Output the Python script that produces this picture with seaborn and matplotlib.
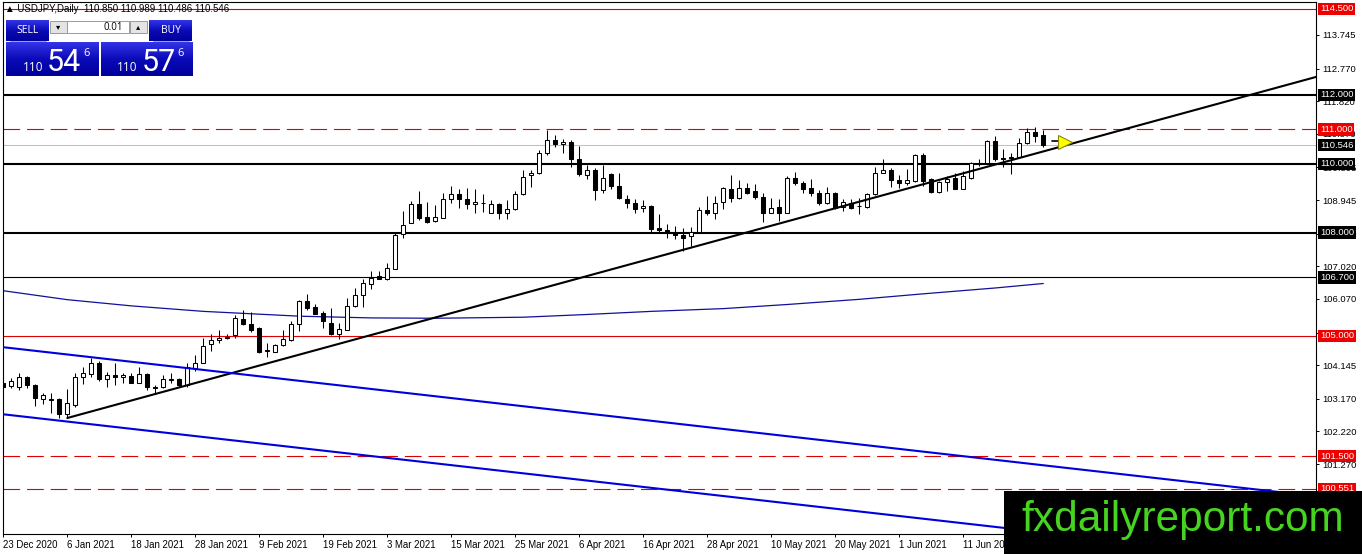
import numpy as np
import pandas as pd
import matplotlib
matplotlib.use("Agg")
import matplotlib.pyplot as plt
import seaborn as sns
from matplotlib.patches import Rectangle
from matplotlib.colors import LinearSegmentedColormap

# ---------------- data ----------------
opens = [103.62, 103.55, 103.50, 103.79, 103.56, 103.15, 103.15, 103.15, 102.72, 102.98,
         103.79, 103.88, 104.22, 103.73, 103.85, 103.79, 103.82, 103.64, 103.88, 103.51,
         103.50, 103.72, 103.73, 103.56, 104.05, 104.20, 104.75, 104.89, 104.95, 105.01,
         105.50, 105.33, 105.24, 104.56, 104.54, 104.72, 104.89, 105.35, 106.02, 105.85,
         105.67, 105.38, 105.06, 105.18, 105.88, 106.20, 106.51, 106.75, 106.66, 106.95,
         107.96, 108.28, 108.83, 108.46, 108.34, 108.43, 108.98, 109.12, 108.98, 108.83,
         108.87, 108.57, 108.83, 108.57, 108.69, 109.12, 109.67, 109.73, 110.31, 110.69,
         110.57, 110.63, 110.14, 109.67, 109.82, 109.24, 109.70, 109.36, 108.98, 108.86,
         108.72, 108.78, 108.14, 108.08, 108.02, 107.93, 107.91, 108.02, 108.66, 108.57,
         108.89, 109.27, 109.01, 109.30, 109.21, 109.04, 108.57, 108.75, 108.57, 109.59,
         109.44, 109.30, 109.15, 108.86, 109.15, 108.75, 108.86, 108.78, 108.75, 109.12,
         109.73, 109.82, 109.53, 109.44, 109.50, 110.25, 109.56, 109.18, 109.47, 109.59,
         109.27, 109.59, 110.02, 110.02, 110.66, 110.17, 110.18, 110.20, 110.60, 110.92,
         110.850]
highs = [103.67, 103.76, 103.91, 103.82, 103.59, 103.33, 103.33, 103.18, 103.44, 103.93,
         104.08, 104.34, 104.28, 103.96, 104.20, 103.91, 103.91, 104.08, 103.91, 103.56,
         103.85, 103.93, 103.76, 104.20, 104.43, 104.95, 105.04, 105.18, 105.06, 105.59,
         105.76, 105.70, 105.27, 104.80, 104.77, 105.18, 105.44, 106.05, 106.22, 105.91,
         105.73, 105.82, 105.38, 106.11, 106.40, 106.66, 106.89, 106.89, 107.12, 107.99,
         108.63, 108.92, 109.21, 108.89, 108.80, 109.15, 109.36, 109.27, 109.30, 109.27,
         109.12, 108.95, 108.86, 108.95, 109.21, 109.82, 109.82, 110.40, 110.98, 110.83,
         110.72, 110.69, 110.51, 109.96, 109.88, 109.96, 109.73, 109.73, 109.09, 108.98,
         108.95, 108.80, 108.54, 108.25, 108.20, 108.14, 108.17, 108.75, 109.07, 109.07,
         109.33, 109.67, 109.53, 109.44, 109.41, 109.15, 109.01, 108.98, 109.64, 109.76,
         109.50, 109.56, 109.24, 109.33, 109.18, 108.98, 108.98, 109.01, 109.15, 109.91,
         110.14, 109.88, 109.67, 109.85, 110.28, 110.31, 109.59, 109.50, 109.64, 109.73,
         109.79, 110.05, 110.14, 110.69, 110.80, 110.43, 110.31, 110.75, 111.04, 111.07,
         110.989]
lows = [103.44, 103.47, 103.41, 103.47, 102.95, 103.01, 102.75, 102.60, 102.60, 102.92,
        103.59, 103.79, 103.70, 103.50, 103.56, 103.62, 103.62, 103.62, 103.41, 103.33,
        103.47, 103.64, 103.50, 103.50, 103.99, 104.20, 104.57, 104.80, 104.92, 104.95,
        105.30, 105.12, 104.49, 104.37, 104.54, 104.69, 104.86, 105.15, 105.76, 105.62,
        105.24, 105.01, 104.92, 105.18, 105.85, 105.85, 106.37, 106.66, 106.63, 106.95,
        107.85, 108.28, 108.37, 108.28, 108.31, 108.43, 108.86, 108.72, 108.69, 108.57,
        108.60, 108.57, 108.40, 108.40, 108.66, 109.09, 109.33, 109.70, 110.25, 110.49,
        110.31, 109.91, 109.64, 109.56, 108.95, 109.15, 109.27, 108.98, 108.72, 108.57,
        108.60, 108.02, 107.99, 107.85, 107.82, 107.47, 107.62, 107.99, 108.51, 108.40,
        108.69, 108.89, 108.98, 109.12, 108.98, 108.31, 108.57, 108.34, 108.57, 109.38,
        109.15, 109.07, 108.80, 108.83, 108.69, 108.63, 108.69, 108.54, 108.72, 109.09,
        109.73, 109.33, 109.30, 109.38, 109.47, 109.36, 109.15, 109.15, 109.21, 109.27,
        109.27, 109.56, 109.93, 110.02, 110.08, 109.91, 109.70, 110.17, 110.57, 110.63,
        110.486]
closes = [103.50, 103.68, 103.79, 103.56, 103.18, 103.27, 103.12, 102.72, 103.04, 103.79,
          103.91, 104.22, 103.73, 103.85, 103.79, 103.85, 103.64, 103.88, 103.50, 103.49,
          103.73, 103.74, 103.56, 104.08, 104.22, 104.69, 104.89, 104.95, 104.96, 105.53,
          105.35, 105.18, 104.54, 104.58, 104.72, 104.92, 105.35, 106.02, 105.82, 105.64,
          105.44, 105.06, 105.21, 105.88, 106.20, 106.54, 106.69, 106.66, 106.98, 107.93,
          108.22, 108.83, 108.43, 108.31, 108.46, 108.98, 109.12, 108.98, 108.83, 108.89,
          108.85, 108.83, 108.57, 108.69, 109.12, 109.62, 109.73, 110.31, 110.69, 110.57,
          110.63, 110.14, 109.70, 109.82, 109.24, 109.59, 109.36, 109.01, 108.86, 108.69,
          108.78, 108.11, 108.08, 107.99, 107.93, 107.85, 108.02, 108.66, 108.57, 108.86,
          109.30, 109.01, 109.30, 109.15, 109.04, 108.57, 108.72, 108.57, 109.59, 109.44,
          109.27, 109.15, 108.86, 109.15, 108.72, 108.89, 108.72, 108.76, 109.12, 109.73,
          109.82, 109.53, 109.44, 109.53, 110.25, 109.50, 109.18, 109.47, 109.56, 109.27,
          109.64, 110.02, 109.99, 110.66, 110.14, 110.15, 110.20, 110.60, 110.92, 110.80,
          110.546]

# 200-period moving average, read at sample bars
ma_bars = [0, 8, 16, 25, 37, 46, 54, 65, 73, 81, 90, 98, 107, 115, 124, 130]
ma_vals = [106.31, 106.05, 105.87, 105.71, 105.57, 105.52, 105.51, 105.54, 105.62, 105.71,
           105.79, 105.91, 106.06, 106.22, 106.39, 106.52]

# trendline and channel anchors (bar, price)
trend_bars = [8, 170]
trend_prices = [102.61, 112.90]
chan_bars = [-5, 170]
chan_upper = [104.80, 100.18]
chan_lower = [102.85, 98.23]

# horizontal levels
solid_black_thick = [112.0, 110.0, 108.0]
solid_black_thin = [106.7]
solid_red = [114.5, 105.0]
dashed_red = [111.0, 101.5, 100.551]
bid_price = 110.546
boxed_levels = [114.5, 112.0, 111.0, 110.546, 110.0, 108.0, 106.7, 105.0, 101.5, 100.551]
boxed_colors = ['#ee0000', 'black', '#ee0000', 'black', 'black', 'black', 'black',
                '#ee0000', '#ee0000', '#ee0000']

y_ticks = [113.745, 112.770, 111.820, 110.870, 109.895, 108.945, 107.970, 107.020,
           106.070, 105.095, 104.145, 103.170, 102.220, 101.270, 100.295]
date_ticks = [0, 8, 16, 24, 32, 40, 48, 56, 64, 72, 80, 88, 96, 104, 112, 120]
date_labels = ['23 Dec 2020', '6 Jan 2021', '18 Jan 2021', '28 Jan 2021', '9 Feb 2021',
               '19 Feb 2021', '3 Mar 2021', '15 Mar 2021', '25 Mar 2021', '6 Apr 2021',
               '16 Apr 2021', '28 Apr 2021', '10 May 2021', '20 May 2021', '1 Jun 2021',
               '11 Jun 2021']

arrow_bar = 132.7
arrow_price = 110.63
header = "\u25b2 USDJPY,Daily  110.850 110.989 110.486 110.546"

# ---------------- style ----------------
sns.set_theme(style="white")
plt.rcParams['font.family'] = ['Liberation Sans', 'DejaVu Sans']
plt.rcParams['lines.scale_dashes'] = False

W, H = 1362, 554
fig = plt.figure(figsize=(W / 100, H / 100), dpi=100)
fig.patch.set_facecolor('white')

L_PX, R_PX, T_PX, B_PX = 3, 1316, 1.5, 534
ax = fig.add_axes([L_PX / W, (H - B_PX) / H, (R_PX - L_PX) / W, (B_PX - T_PX) / H])
ax.set_facecolor('white')

df = pd.DataFrame({'o': opens, 'h': highs, 'l': lows, 'c': closes})
df['x'] = np.arange(len(df))
up = df['c'] >= df['o']

# candles
ax.vlines(df['x'], df['l'], df['h'], color='black', linewidth=0.75, zorder=2.2)
body = (df['c'] - df['o']).where((df['c'] - df['o']).abs() > 0.012,
                                 np.sign(df['c'] - df['o'] + 1e-9) * 0.012)
ax.bar(df['x'], body, bottom=df['o'], width=0.55,
       color=np.where(up, 'white', 'black'), edgecolor='black', linewidth=0.75, zorder=2.3)

# horizontal lines
ax.axhline(bid_price, color='#c0c0c0', linewidth=0.75, zorder=1)
for v in solid_black_thick:
    ax.axhline(v, color='black', linewidth=1.5, zorder=1.6)
for v in solid_black_thin:
    ax.axhline(v, color='black', linewidth=0.8, zorder=1.6)
for v in solid_red:
    ax.axhline(v, color='#dd0000', linewidth=0.8, zorder=1.6)
for v in dashed_red:
    ax.axhline(v, color='#dd0000', linewidth=0.8, linestyle=(0, (12, 5)), zorder=1.6)

# moving average
sns.lineplot(x=ma_bars, y=ma_vals, ax=ax, color='#10109a', linewidth=0.9, zorder=2)

# trendline & channel
ax.plot(trend_bars, trend_prices, color='black', linewidth=1.5, zorder=3)
ax.plot(chan_bars, chan_upper, color='#0000dd', linewidth=1.5, zorder=3)
ax.plot(chan_bars, chan_lower, color='#0000dd', linewidth=1.5, zorder=3)

# arrow marker
ax.plot([arrow_bar - 1.6, arrow_bar - 0.6], [arrow_price + 0.03, arrow_price + 0.03],
        color='black', linewidth=1.2, zorder=4)
ax.plot([arrow_bar], [arrow_price], marker='>', markersize=10, color='#ffff00',
        markeredgecolor='#8a8a00', markeredgewidth=0.8, zorder=4.5)

# limits
ax.set_xlim(-0.0375, 164.09)
ax.set_ylim(99.238, 114.718)

for s in ax.spines.values():
    s.set_color('black')
    s.set_linewidth(0.8)

ax.yaxis.tick_right()
ax.set_yticks(y_ticks)
ax.set_yticklabels([f"{v:.3f}" for v in y_ticks])
ax.tick_params(axis='y', which='both', right=True, left=False, length=2.5, width=0.7,
               pad=1.8, labelsize=6.8, colors='black', direction='out')
ax.set_xticks(date_ticks)
ax.set_xticklabels(date_labels, ha='left')
ax.tick_params(axis='x', bottom=True, length=2.5, width=0.7, pad=1.5, labelsize=6.9,
               colors='black', direction='out')
ax.set_xlabel('')
ax.set_ylabel('')

for v, col in zip(boxed_levels, boxed_colors):
    ax.annotate(f"{v:.3f}", xy=(1, v), xycoords=('axes fraction', 'data'),
                xytext=(4, 0), textcoords='offset pixels', ha='left', va='center',
                color='white', fontsize=6.8, annotation_clip=False, zorder=6,
                bbox=dict(boxstyle='square,pad=0.18', fc=col, ec='none'))

# ---------------- overlay (pixel coords) ----------------
ov = fig.add_axes([0, 0, 1, 1], zorder=10)
ov.set_xlim(0, W)
ov.set_ylim(H, 0)
ov.axis('off')
ov.patch.set_alpha(0)

ov.text(5, 9.5, header, fontsize=7.0, color='black', va='center', ha='left',
        family=['Liberation Sans', 'DejaVu Sans'])

blue_cmap = LinearSegmentedColormap.from_list('b', ['#3434e8', '#0a0ab8', '#00009a'])
grad = np.linspace(0, 1, 64).reshape(-1, 1)

def grad_box(x0, y0, x1, y1):
    ov.imshow(grad, cmap=blue_cmap, extent=(x0, x1, y1, y0), aspect='auto',
              interpolation='bilinear', zorder=11)

# SELL / BUY buttons
grad_box(6, 20, 49, 41)
grad_box(149, 20, 192, 41)
ov.plot([10, 46], [40.5, 40.5], color='#9a9af0', linewidth=0.7, zorder=12)
ov.plot([153, 189], [40.5, 40.5], color='#9a9af0', linewidth=0.7, zorder=12)
ov.text(27.5, 30.5, 'SELL', color='white', fontsize=7.5, ha='center', va='center',
        family='Open Sans', zorder=13)
ov.text(170.5, 30.5, 'BUY', color='white', fontsize=7.5, ha='center', va='center',
        family='Open Sans', zorder=13)
# lot field
ov.add_patch(Rectangle((50, 20.5), 16.5, 12.5, fc='#e4e4e4', ec='#9a9a9a', lw=0.7, zorder=12))
ov.add_patch(Rectangle((66.5, 20.5), 62, 12.5, fc='white', ec='#9a9a9a', lw=0.7, zorder=12))
ov.add_patch(Rectangle((129.5, 20.5), 17, 12.5, fc='#e4e4e4', ec='#9a9a9a', lw=0.7, zorder=12))
ov.text(58.2, 26.8, '\u25be', fontsize=6, ha='center', va='center', color='black',
        family=['DejaVu Sans'], zorder=13)
ov.text(138, 26.5, '\u25b4', fontsize=6, ha='center', va='center', color='black',
        family=['DejaVu Sans'], zorder=13)
ov.text(123, 27, '0.01', fontsize=7, ha='right', va='center', color='black',
        family='Open Sans', zorder=13)
# price boxes
grad_box(6, 42.5, 99, 76)
grad_box(101, 42.5, 193, 76)
for x110, xbig, xsup, big in [(22.5, 47, 83, '54'), (117, 141.5, 177.5, '57')]:
    ov.text(x110, 71, '110', fontsize=8.5, color='white', ha='left', va='baseline',
            family='Open Sans', zorder=13)
    ov.text(xbig, 71, big, fontsize=22, color='white', ha='left', va='baseline',
            family='Roboto', zorder=13)
    ov.text(xsup, 56.5, '6', fontsize=8, color='white', ha='left', va='baseline',
            family='Open Sans', zorder=13)

# watermark
ov.add_patch(Rectangle((1004, 491), W - 1004, H - 491, fc='black', ec='none', zorder=14))
ov.text(1021, 531, 'fxdailyreport.com', fontsize=30.5, color='#46d420', ha='left',
        va='baseline', family='Liberation Sans', zorder=15)

ov.set_xlim(0, W)
ov.set_ylim(H, 0)

fig.savefig('out.png', dpi=100, facecolor='white')
